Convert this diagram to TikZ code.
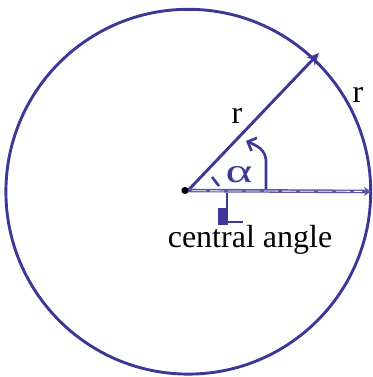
\documentclass[tikz,border=0pt]{standalone}
\usepackage{fontspec}
\setmainfont{Liberation Serif}
\usetikzlibrary{arrows.meta}
\definecolor{ink}{RGB}{60,56,152}
\begin{document}
\begin{tikzpicture}[x=1bp,y=-1bp,
  line/.style={draw=ink,line width=2.9bp},
  lbl/.style={inner sep=0pt,anchor=base,font=\fontsize{32bp}{36bp}\selectfont}]
\useasboundingbox (0,0) rectangle (373,377);
\coordinate (O) at (188,190.5);
\coordinate (R) at (319,53);
\coordinate (H) at (371,191.5);
\coordinate (A0) at (266,189);
\coordinate (A1) at (246,141);
% circle
\draw[line] (188.3,191.7) circle[radius=182.4];
% radius arrow
\draw[line,-{Stealth[length=12bp,width=11bp]}] (O) -- (R);
% horizontal radius
\draw[draw=ink!85,line width=3.6bp,-{Stealth[length=7bp,width=9bp]}] (O) -- (H);
\draw[white,line width=0.8bp,dash pattern=on 14bp off 4bp] (192,190.8) -- (362,191.4);
% centre dot
\fill[black] (185,190.5) circle[radius=3.6bp];
% angle arc
\draw[line,line width=2.6bp,-{Straight Barb[angle=90:10bp]}] (A0) -- (266,160) .. controls (265,150) and (258,146) .. (A1);
% alpha
\node[text=ink,inner sep=0pt,xscale=1.5,font=\fontsize{34bp}{36bp}\selectfont] (al) at (239,175) {α};
\draw[line,line width=2.6bp] (212,177) -- (219,186);
% pointer to label
\draw[line,line width=2.2bp] (227,193) -- (227,222) -- (243,222);
\fill[ink] (218,208) rectangle (228,225);
% labels
\node[lbl] (r1) at (237,123) {r};
\node[lbl] (r2) at (358,102) {r};
\node[lbl] (ca) at (250,247) {central angle};
\end{tikzpicture}
\end{document}
